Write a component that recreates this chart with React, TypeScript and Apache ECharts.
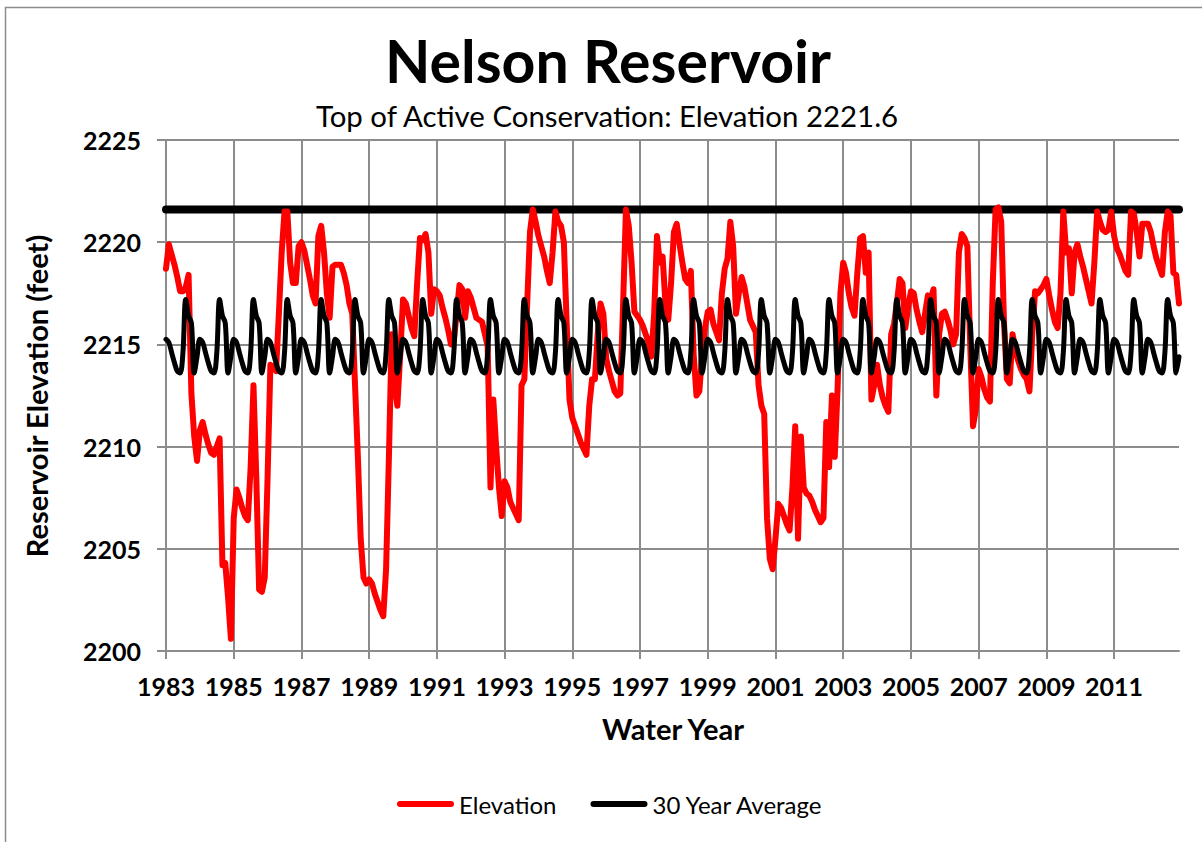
import React, { useEffect, useRef } from "react";
import * as echarts from "echarts";

const TITLE = "Nelson Reservoir";
const SUBTITLE = "Top of Active Conservation: Elevation 2221.6";
const X_AXIS_NAME = "Water Year";
const Y_AXIS_NAME = "Reservoir Elevation (feet)";
const START_YEAR = 1983;
const xTickLabels = ["1983", "1985", "1987", "1989", "1991", "1993", "1995", "1997", "1999", "2001", "2003", "2005", "2007", "2009", "2011"];
const Y_MIN = 2200;
const Y_MAX = 2225;
const Y_STEP = 5;
const topOfConservation = 2221.6;

// 30 year average, by month of the year (repeats every year)
const avgPattern = [2215.25, 2215.1, 2214.6, 2214.1, 2213.7, 2213.6, 2214.6, 2217.2, 2216.4, 2216.05, 2213.6, 2214.4];

// monthly reservoir elevation
const elevation1983to1992 = [
  2218.7, 2219.9, 2219.4, 2218.9, 2218.3, 2217.6, 2217.6, 2217.8, 2218.4, 2212.6, 2210.5, 2209.3,
  2210.8, 2211.2, 2210.6, 2210.1, 2209.7, 2209.6, 2210.0, 2210.4, 2204.2, 2204.3, 2202.6, 2200.6,
  2206.5, 2207.9, 2207.5, 2207.0, 2206.6, 2206.4, 2209.0, 2213.0, 2208.5, 2203.0, 2202.9, 2203.6,
  2208.5, 2214.0, 2213.9, 2213.7, 2216.5, 2219.5, 2221.5, 2221.5, 2219.0, 2218.0, 2218.0, 2219.8,
  2220.0, 2219.6, 2218.9, 2218.2, 2217.4, 2217.0, 2220.3, 2220.8, 2219.5, 2217.5, 2216.3, 2218.8,
  2218.9, 2218.9, 2218.9, 2218.5, 2217.9, 2217.0, 2216.5, 2213.0, 2209.5, 2205.5, 2203.6, 2203.3,
  2203.5, 2203.3, 2202.8, 2202.4, 2202.0, 2201.7, 2204.0, 2209.5, 2215.5, 2213.0, 2212.0, 2214.5,
  2217.2, 2217.0, 2216.4, 2215.8, 2215.4, 2218.0, 2220.2, 2220.1, 2220.4, 2219.5, 2216.5, 2217.7,
  2217.6, 2217.4, 2216.8, 2216.3, 2215.7, 2215.0, 2215.2, 2216.5, 2217.9, 2217.7, 2216.3, 2217.6,
  2217.3, 2216.8, 2216.3, 2216.2, 2216.1, 2215.5, 2214.9, 2208.0, 2212.3, 2210.0, 2208.0, 2206.6,
];
const elevation1993to2002 = [
  2208.3, 2208.0, 2207.3, 2207.0, 2206.7, 2206.4, 2213.0, 2213.3, 2217.0, 2220.5, 2221.6, 2221.0,
  2220.3, 2219.8, 2219.3, 2218.6, 2218.0, 2219.5, 2221.5, 2221.0, 2220.8, 2220.0, 2216.0, 2212.3,
  2211.4, 2211.0, 2210.6, 2210.2, 2209.9, 2209.6, 2212.0, 2213.3, 2213.3, 2215.5, 2217.0, 2216.5,
  2214.3, 2213.7, 2213.2, 2212.7, 2212.5, 2212.6, 2217.0, 2221.6, 2220.8, 2219.0, 2216.6, 2216.4,
  2216.2, 2215.9, 2215.5, 2215.1, 2214.4, 2216.5, 2220.3, 2219.0, 2219.3, 2217.0, 2216.2, 2218.0,
  2220.5, 2220.9, 2219.9, 2219.0, 2218.2, 2218.0, 2218.6, 2214.5, 2212.5, 2212.7, 2214.5, 2215.8,
  2216.6, 2216.7, 2216.0, 2215.6, 2215.2, 2217.5, 2218.7, 2219.2, 2221.0, 2219.8, 2216.5, 2217.5,
  2218.3, 2217.8, 2217.0, 2216.2, 2215.9, 2215.6, 2213.0, 2212.0, 2211.6, 2206.5, 2204.5, 2204.0,
  2205.5, 2207.2, 2207.0, 2206.6, 2206.2, 2205.9, 2208.0, 2211.0, 2205.5, 2210.5, 2208.0, 2207.7,
  2207.6, 2207.3, 2206.9, 2206.6, 2206.3, 2206.5, 2211.2, 2209.0, 2212.5, 2209.5, 2212.8, 2217.5,
];
const elevation2003to2012 = [
  2219.0, 2218.5, 2217.5, 2216.8, 2216.4, 2218.5, 2220.2, 2220.3, 2218.5, 2219.5, 2212.3, 2213.0,
  2214.0, 2213.0, 2212.4, 2212.0, 2211.7, 2215.5, 2216.0, 2217.0, 2218.2, 2218.0, 2215.8, 2216.8,
  2217.6, 2217.5, 2216.7, 2216.1, 2215.6, 2216.5, 2217.4, 2217.2, 2217.7, 2212.5, 2215.5, 2216.5,
  2216.6, 2216.2, 2215.7, 2215.0, 2215.5, 2219.5, 2220.4, 2220.2, 2219.8, 2215.0, 2211.0, 2211.8,
  2213.8, 2213.4, 2212.8, 2212.4, 2212.2, 2218.0, 2221.6, 2221.7, 2221.0, 2216.0, 2213.3, 2213.1,
  2215.5, 2214.8, 2214.2, 2213.8, 2213.5, 2213.3, 2212.7, 2215.5, 2217.6, 2217.5, 2217.7, 2217.9,
  2218.2, 2217.4, 2216.7, 2216.1, 2215.8, 2217.5, 2221.5, 2219.5, 2219.7, 2217.5, 2219.5, 2219.9,
  2219.3, 2218.8, 2218.2, 2217.6, 2217.0, 2219.0, 2221.5, 2221.0, 2220.6, 2220.5, 2220.6, 2221.5,
  2220.3, 2219.7, 2219.4, 2219.0, 2218.6, 2218.4, 2221.5, 2221.4, 2220.5, 2219.3, 2220.9, 2220.9,
  2220.9, 2220.5, 2219.8, 2219.2, 2218.8, 2218.4, 2220.5, 2221.5, 2221.3, 2218.5, 2218.4, 2217.0,
];

const FONT = "Lato, 'Open Sans', sans-serif";
const GRID_COLOR = "#8c8c8c";

export default function App() {
  const ref = useRef<HTMLDivElement>(null);

  useEffect(() => {
    if (!ref.current) return;
    const chart = echarts.init(ref.current, undefined, { renderer: "svg" });

    const elevation = [...elevation1983to1992, ...elevation1993to2002, ...elevation2003to2012];
    const months = elevation.map((_, i) => {
      const y = START_YEAR + Math.floor(i / 12);
      const m = (i % 12) + 1;
      return `${y}-${m < 10 ? "0" + m : m}`;
    });
    const average = elevation.map((_, i) => avgPattern[i % 12]);
    const topLine = elevation.map(() => topOfConservation);
    const every2Years = (idx: number) => idx % 24 === 0;

    const capsule = "path://M3,0 L54,0 A3,3 0 0 1 54,6 L3,6 A3,3 0 0 1 3,0 Z";

    chart.setOption({
      animation: false,
      backgroundColor: "#ffffff",
      textStyle: { fontFamily: FONT },
      grid: { left: 166, right: 23, top: 140, bottom: 191, containLabel: false },
      graphic: [
        {
          type: "rect",
          silent: true,
          shape: { x: 5.5, y: 7.5, width: 1210, height: 900 },
          style: { fill: "none", stroke: "#8c8c8c", lineWidth: 1.5 },
        },
        {
          type: "text",
          x: 608,
          y: 60,
          style: {
            text: TITLE,
            font: `bold 59px ${FONT}`,
            fill: "#000",
            textAlign: "center",
            textVerticalAlign: "middle",
            align: "center",
            verticalAlign: "middle",
          },
        },
        {
          type: "text",
          x: 607,
          y: 115,
          style: {
            text: SUBTITLE,
            font: `29.4px ${FONT}`,
            fill: "#000",
            textAlign: "center",
            textVerticalAlign: "middle",
            align: "center",
            verticalAlign: "middle",
          },
        },
        {
          type: "text",
          x: 673,
          y: 728,
          style: {
            text: X_AXIS_NAME,
            font: `bold 29px ${FONT}`,
            fill: "#000",
            textAlign: "center",
            textVerticalAlign: "middle",
            align: "center",
            verticalAlign: "middle",
          },
        },
        {
          type: "text",
          x: 36,
          y: 396,
          rotation: Math.PI / 2,
          style: {
            text: Y_AXIS_NAME,
            font: `bold 29px ${FONT}`,
            fill: "#000",
            textAlign: "center",
            textVerticalAlign: "middle",
            align: "center",
            verticalAlign: "middle",
          },
        },
      ],
      legend: {
        left: 392,
        top: 787,
        itemWidth: 57,
        itemHeight: 6,
        itemGap: 34,
        textStyle: { fontFamily: FONT, fontSize: 24, color: "#000" },
        data: [
          { name: "Elevation", icon: capsule },
          { name: "30 Year Average", icon: capsule },
        ],
      },
      xAxis: {
        type: "category",
        data: months,
        boundaryGap: false,
        axisLine: { show: true, lineStyle: { color: GRID_COLOR, width: 2 } },
        axisTick: { show: true, interval: every2Years, length: 8, lineStyle: { color: GRID_COLOR, width: 2 } },
        axisLabel: {
          interval: every2Years,
          margin: 22,
          fontFamily: FONT,
          fontSize: 25,
          fontWeight: "bold",
          color: "#000",
          formatter: (_v: string, idx: number) => (idx % 24 === 0 ? xTickLabels[idx / 24] ?? "" : ""),
        },
        splitLine: { show: true, interval: every2Years, lineStyle: { color: GRID_COLOR, width: 2 } },
      },
      yAxis: {
        type: "value",
        min: Y_MIN,
        max: Y_MAX,
        interval: Y_STEP,
        axisLine: { show: true, lineStyle: { color: GRID_COLOR, width: 2 } },
        axisTick: { show: true, length: 9, lineStyle: { color: GRID_COLOR, width: 2 } },
        axisLabel: {
          margin: 25,
          fontFamily: FONT,
          fontSize: 25,
          fontWeight: "bold",
          color: "#000",
          formatter: (v: number) => String(v),
        },
        splitLine: { show: true, lineStyle: { color: GRID_COLOR, width: 2 } },
      },
      series: [
        {
          name: "Top of Active Conservation",
          type: "line",
          data: topLine,
          symbol: "none",
          silent: true,
          z: 1,
          lineStyle: { color: "#000", width: 8, cap: "round" },
        },
        {
          name: "Elevation",
          type: "line",
          data: elevation,
          symbol: "none",
          z: 2,
          color: "#ff0000",
          lineStyle: { color: "#ff0000", width: 6, cap: "round", join: "round" },
        },
        {
          name: "30 Year Average",
          type: "line",
          data: average,
          symbol: "none",
          smooth: 0.35,
          z: 3,
          color: "#000000",
          lineStyle: { color: "#000", width: 5, cap: "round", join: "round" },
        },
      ],
    });

    return () => chart.dispose();
  }, []);

  return (
    <div
      ref={ref}
      style={{ position: "absolute", left: 0, top: 0, width: 1202, height: 842, background: "#fff" }}
    />
  );
}
